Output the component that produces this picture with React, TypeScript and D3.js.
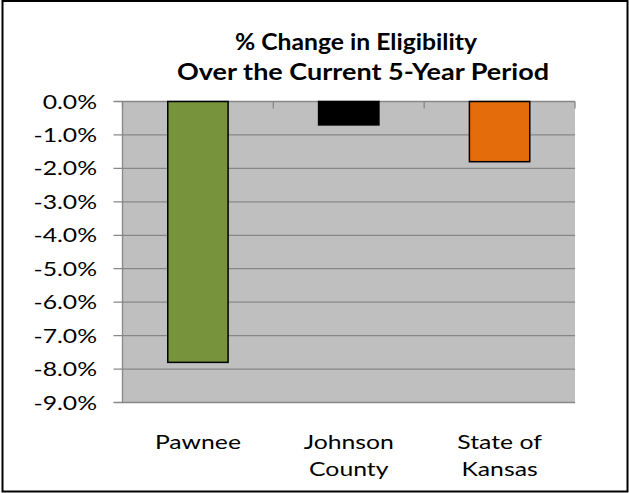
import React from "react";
import * as d3 from "d3";

const categories: string[][] = [["Pawnee"], ["Johnson", "County"], ["State of", "Kansas"]];
const values: number[] = [-7.8, -0.7, -1.8];
const barColors: string[] = ["#77933C", "#000000", "#E46C0A"];
const yTicks: number[] = [0, -1, -2, -3, -4, -5, -6, -7, -8, -9];
const titleLines: string[] = ["% Change in Eligibility", "Over the Current 5-Year Period"];
const titleWidths: number[] = [242, 372];

const W = 629;
const H = 493;
const plot = { left: 122.5, right: 575, top: 101.5, bottom: 402.5 };
const FONT = "Lato, Carlito, 'Open Sans', sans-serif";
const SX = 1.27;

export default function App() {
  const x = d3
    .scaleBand<number>()
    .domain(values.map((_, i) => i))
    .range([plot.left, plot.right])
    .paddingInner(0.6)
    .paddingOuter(0.3);
  const band = d3
    .scaleBand<number>()
    .domain(values.map((_, i) => i))
    .range([plot.left, plot.right]);
  const y = d3.scaleLinear().domain([0, -9]).range([plot.top, plot.bottom]);

  const boundaries = d3.range(values.length + 1).map((i) => plot.left + i * band.step());
  const fmt = (t: number) => t.toFixed(1) + "%";

  return (
    <svg
      width={W}
      height={H}
      style={{ position: "fixed", left: 0, top: 0, background: "#fff" }}
      fontFamily={FONT}
    >
      <rect x={2.5} y={1} width={625} height={490.5} fill="#fff" stroke="#000" strokeWidth={2} />
      {titleLines.map((t, i) => (
        <text
          key={t}
          x={356 + i * 7}
          y={50 + i * 30}
          textAnchor="middle"
          fontWeight="bold"
          fontSize={22.5}
          fill="#000"
          textLength={titleWidths[i]}
          lengthAdjust="spacingAndGlyphs"
        >
          {t}
        </text>
      ))}
      <rect
        x={plot.left}
        y={plot.top}
        width={plot.right - plot.left}
        height={plot.bottom - plot.top}
        fill="#BFBFBF"
      />
      {yTicks.map((t) => (
        <g key={t}>
          <line
            x1={plot.left - 9}
            x2={plot.right}
            y1={y(t)}
            y2={y(t)}
            stroke="#878787"
            strokeWidth={1.3}
          />
          <text
            transform={`translate(97,${y(t)}) scale(${SX},1)`}
            dy="0.36em"
            textAnchor="end"
            fontSize={19.5}
            fill="#000"
          >
            {fmt(t)}
          </text>
        </g>
      ))}
      <line x1={plot.left} x2={plot.left} y1={plot.top} y2={plot.bottom} stroke="#878787" strokeWidth={1.3} />
      {boundaries.map((bx, i) => (
        <line key={i} x1={bx} x2={bx} y1={plot.top} y2={plot.top + 7} stroke="#878787" strokeWidth={1.3} />
      ))}
      {values.map((v, i) => (
        <rect
          key={i}
          x={x(i)}
          y={y(0)}
          width={x.bandwidth()}
          height={y(v) - y(0)}
          fill={barColors[i]}
          stroke="#000"
          strokeWidth={1.5}
        />
      ))}
      {categories.map((lines, i) => (
        <text
          key={i}
          transform={`translate(${(band(i) as number) + band.bandwidth() / 2},449) scale(${SX},1)`}
          textAnchor="middle"
          fontSize={19.5}
          fill="#000"
        >
          {lines.map((l, j) => (
            <tspan key={j} x={0} dy={j === 0 ? 0 : 27}>
              {l}
            </tspan>
          ))}
        </text>
      ))}
    </svg>
  );
}
